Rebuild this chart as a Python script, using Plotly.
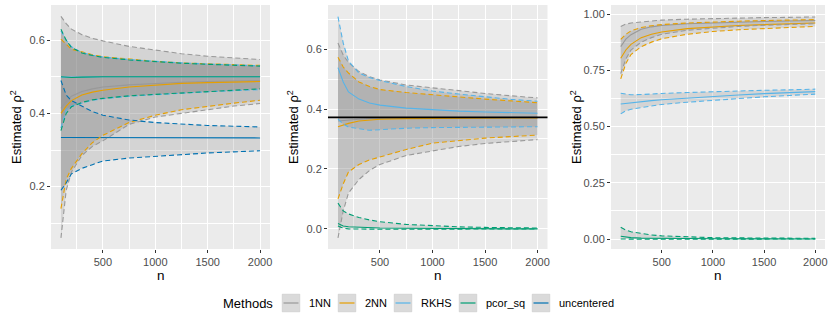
import plotly.graph_objects as go

# ---------------- data ----------------
n = [100, 150, 200, 300, 400, 500, 750, 1000, 1250, 1500, 1750, 2000]
methods = ["1NN", "2NN", "RKHS", "pcor_sq", "uncentered"]
colors = ["#999999", "#E69F00", "#56B4E9", "#009E73", "#0072B2"]

# panel 1
p1_1nn_mean = [0.414, 0.433, 0.447, 0.46, 0.467, 0.472, 0.478, 0.482, 0.485, 0.487, 0.489, 0.49]
p1_1nn_lo = [0.06, 0.19, 0.24, 0.285, 0.31, 0.325, 0.37, 0.39, 0.40, 0.41, 0.42, 0.427]
p1_1nn_hi = [0.665, 0.645, 0.63, 0.615, 0.605, 0.598, 0.583, 0.573, 0.563, 0.556, 0.551, 0.547]
p1_2nn_mean = [0.40, 0.42, 0.435, 0.45, 0.458, 0.463, 0.472, 0.478, 0.482, 0.484, 0.486, 0.487]
p1_2nn_lo = [0.14, 0.22, 0.25, 0.29, 0.32, 0.34, 0.375, 0.395, 0.41, 0.42, 0.428, 0.436]
p1_2nn_hi = [0.603, 0.59, 0.575, 0.568, 0.56, 0.555, 0.548, 0.542, 0.538, 0.535, 0.533, 0.531]
p1_rkhs_mean = [0.499, 0.498, 0.499, 0.499, 0.5, 0.5, 0.5, 0.5, 0.5, 0.5, 0.5, 0.5]
p1_rkhs_lo = [0.36, 0.41, 0.42, 0.429, 0.436, 0.44, 0.447, 0.451, 0.456, 0.459, 0.462, 0.465]
p1_rkhs_hi = [0.625, 0.60, 0.582, 0.566, 0.559, 0.554, 0.547, 0.542, 0.538, 0.535, 0.532, 0.53]
p1_pcor_mean = [0.5, 0.499, 0.498, 0.499, 0.5, 0.5, 0.5, 0.5, 0.5, 0.5, 0.5, 0.5]
p1_pcor_lo = [0.353, 0.40, 0.418, 0.43, 0.437, 0.441, 0.448, 0.452, 0.457, 0.46, 0.463, 0.467]
p1_pcor_hi = [0.63, 0.60, 0.58, 0.565, 0.558, 0.553, 0.546, 0.541, 0.537, 0.534, 0.531, 0.529]
p1_unc_mean = [0.334, 0.334, 0.333, 0.334, 0.333, 0.333, 0.333, 0.333, 0.333, 0.333, 0.333, 0.333]
p1_unc_lo = [0.19, 0.21, 0.235, 0.25, 0.26, 0.27, 0.278, 0.283, 0.288, 0.292, 0.295, 0.298]
p1_unc_hi = [0.49, 0.45, 0.435, 0.42, 0.405, 0.395, 0.382, 0.375, 0.37, 0.367, 0.365, 0.363]

# panel 2
p2_1nn_mean = [0.36, 0.362, 0.364, 0.366, 0.368, 0.369, 0.37, 0.371, 0.371, 0.372, 0.372, 0.372]
p2_1nn_lo = [-0.03, 0.06, 0.12, 0.165, 0.195, 0.215, 0.245, 0.26, 0.275, 0.285, 0.292, 0.298]
p2_1nn_hi = [0.62, 0.58, 0.555, 0.525, 0.508, 0.497, 0.48, 0.47, 0.46, 0.452, 0.444, 0.437]
p2_2nn_mean = [0.341, 0.347, 0.352, 0.36, 0.364, 0.366, 0.368, 0.369, 0.37, 0.37, 0.37, 0.37]
p2_2nn_lo = [0.10, 0.15, 0.19, 0.215, 0.23, 0.24, 0.265, 0.286, 0.295, 0.303, 0.308, 0.313]
p2_2nn_hi = [0.573, 0.54, 0.52, 0.49, 0.475, 0.465, 0.455, 0.447, 0.44, 0.433, 0.427, 0.421]
p2_rkhs_mean = [0.538, 0.49, 0.457, 0.433, 0.42, 0.413, 0.403, 0.397, 0.393, 0.39, 0.388, 0.386]
p2_rkhs_lo = [0.366, 0.35, 0.34, 0.335, 0.329, 0.331, 0.336, 0.338, 0.339, 0.34, 0.34, 0.341]
p2_rkhs_hi = [0.708, 0.62, 0.56, 0.52, 0.505, 0.495, 0.475, 0.46, 0.45, 0.44, 0.432, 0.426]
p2_pcor_mean = [0.018, 0.01, 0.007, 0.005, 0.004, 0.003, 0.002, 0.001, 0.001, 0.001, 0.0, 0.0]
p2_pcor_lo = [0.01, 0.002, 0.0, -0.001, -0.001, -0.001, -0.001, -0.001, 0.0, 0.0, 0.0, 0.0]
p2_pcor_hi = [0.086, 0.06, 0.05, 0.038, 0.03, 0.024, 0.015, 0.01, 0.007, 0.005, 0.004, 0.003]
p2_truth = 0.372

# panel 3
p3_1nn_mean = [0.855, 0.888, 0.908, 0.932, 0.943, 0.949, 0.957, 0.961, 0.965, 0.967, 0.969, 0.971]
p3_1nn_lo = [0.735, 0.80, 0.84, 0.875, 0.895, 0.91, 0.928, 0.938, 0.945, 0.95, 0.954, 0.957]
p3_1nn_hi = [0.945, 0.955, 0.96, 0.965, 0.97, 0.973, 0.977, 0.98, 0.982, 0.984, 0.985, 0.987]
p3_2nn_mean = [0.803, 0.84, 0.865, 0.895, 0.91, 0.92, 0.935, 0.943, 0.949, 0.953, 0.957, 0.96]
p3_2nn_lo = [0.712, 0.78, 0.82, 0.855, 0.875, 0.89, 0.91, 0.922, 0.93, 0.936, 0.941, 0.945]
p3_2nn_hi = [0.887, 0.91, 0.925, 0.94, 0.948, 0.953, 0.96, 0.965, 0.968, 0.971, 0.973, 0.975]
p3_rkhs_mean = [0.600, 0.603, 0.606, 0.61, 0.615, 0.619, 0.627, 0.634, 0.64, 0.646, 0.651, 0.655]
p3_rkhs_lo = [0.556, 0.57, 0.577, 0.585, 0.592, 0.598, 0.608, 0.617, 0.625, 0.632, 0.638, 0.644]
p3_rkhs_hi = [0.648, 0.644, 0.641, 0.642, 0.645, 0.647, 0.651, 0.655, 0.658, 0.661, 0.663, 0.666]
p3_pcor_mean = [0.012, 0.008, 0.006, 0.004, 0.003, 0.002, 0.002, 0.001, 0.001, 0.001, 0.0, 0.0]
p3_pcor_lo = [0.0, -0.001, -0.001, -0.001, -0.001, -0.001, 0.0, 0.0, 0.0, 0.0, 0.0, 0.0]
p3_pcor_hi = [0.052, 0.04, 0.032, 0.024, 0.018, 0.014, 0.009, 0.006, 0.005, 0.004, 0.003, 0.003]

# tick labels
p1_yticks = [0.2, 0.4, 0.6]
p2_yticks = [0.0, 0.2, 0.4, 0.6]
p3_yticks = [0.0, 0.25, 0.5, 0.75, 1.0]
x_ticks = [500, 1000, 1500, 2000]

panels = [
    {
        "1NN": (p1_1nn_mean, p1_1nn_lo, p1_1nn_hi),
        "2NN": (p1_2nn_mean, p1_2nn_lo, p1_2nn_hi),
        "RKHS": (p1_rkhs_mean, p1_rkhs_lo, p1_rkhs_hi),
        "pcor_sq": (p1_pcor_mean, p1_pcor_lo, p1_pcor_hi),
        "uncentered": (p1_unc_mean, p1_unc_lo, p1_unc_hi),
    },
    {
        "1NN": (p2_1nn_mean, p2_1nn_lo, p2_1nn_hi),
        "2NN": (p2_2nn_mean, p2_2nn_lo, p2_2nn_hi),
        "RKHS": (p2_rkhs_mean, p2_rkhs_lo, p2_rkhs_hi),
        "pcor_sq": (p2_pcor_mean, p2_pcor_lo, p2_pcor_hi),
    },
    {
        "1NN": (p3_1nn_mean, p3_1nn_lo, p3_1nn_hi),
        "2NN": (p3_2nn_mean, p3_2nn_lo, p3_2nn_hi),
        "RKHS": (p3_rkhs_mean, p3_rkhs_lo, p3_rkhs_hi),
        "pcor_sq": (p3_pcor_mean, p3_pcor_lo, p3_pcor_hi),
    },
]

# ---------------- figure ----------------
W, H = 830, 318
PT, PB = 5, 249           # plot area top / bottom in pixels
PH = PB - PT
FONT = "Liberation Sans, Arial, Helvetica, sans-serif"
RIBBON = "rgba(120,120,120,0.2)"
col_of = dict(zip(methods, colors))


def py(v):  # pixel row -> paper y
    return (PB - v) / PH


fig = go.Figure()
for pi, pdata in enumerate(panels):
    xa = "x" if pi == 0 else f"x{pi+1}"
    ya = "y" if pi == 0 else f"y{pi+1}"
    for m in methods:
        if m not in pdata:
            continue
        mean, lo, hi = pdata[m]
        fig.add_trace(go.Scatter(
            x=n + n[::-1], y=hi + lo[::-1], fill="toself", fillcolor=RIBBON,
            line=dict(width=0), mode="lines", hoverinfo="skip", showlegend=False,
            xaxis=xa, yaxis=ya))
    for m in methods:
        if m not in pdata:
            continue
        mean, lo, hi = pdata[m]
        fig.add_trace(go.Scatter(
            x=n, y=mean, mode="lines", name=m, legendgroup=m,
            line=dict(color=col_of[m], width=1.1),
            showlegend=False, xaxis=xa, yaxis=ya))
    for m in methods:
        if m not in pdata:
            continue
        mean, lo, hi = pdata[m]
        for b in (lo, hi):
            fig.add_trace(go.Scatter(
                x=n, y=b, mode="lines", legendgroup=m, showlegend=False,
                line=dict(color=col_of[m], width=1.1, dash="5px,3px"),
                xaxis=xa, yaxis=ya))

# truth line in panel 2
fig.add_shape(type="line", xref="x2 domain", yref="y2", x0=0, x1=1,
              y0=p2_truth, y1=p2_truth, line=dict(color="black", width=1.8), layer="above")

x_domains = [[51 / W, 270 / W], [328 / W, 547.5 / W], [611 / W, 825 / W]]
y_ranges = [[0.0297, 0.696], [-0.067, 0.747], [-0.0444, 1.04]]
y_ticks = [p1_yticks, p2_yticks, p3_yticks]
y_fmt = [".1f", ".1f", ".2f"]
y_minor = [0.1, 0.1, 0.125]

common = dict(
    showgrid=True, gridcolor="white", gridwidth=1.1, zeroline=False,
    ticks="outside", ticklen=3, tickwidth=1, tickcolor="#333333",
    tickfont=dict(family=FONT, size=11, color="#4D4D4D"),
    showline=False, automargin=False,
)
layout = dict(
    width=W, height=H,
    margin=dict(l=0, r=0, t=PT, b=H - PB),
    paper_bgcolor="white", plot_bgcolor="#EBEBEB",
    font=dict(family=FONT, size=11, color="black"),
    showlegend=False,
)
annotations = []
shapes = []
for i in range(3):
    sx = "" if i == 0 else str(i + 1)
    layout["xaxis" + sx] = dict(
        common, domain=x_domains[i], range=[5, 2095], anchor="y" + sx,
        tickvals=x_ticks, ticktext=[str(v) for v in x_ticks],
        minor=dict(dtick=250, tick0=0, showgrid=True, gridcolor="white", gridwidth=0.5, ticklen=0),
    )
    layout["yaxis" + sx] = dict(
        common, domain=[0, 1], range=y_ranges[i], anchor="x" + sx,
        tickvals=y_ticks[i], tickformat=y_fmt[i],
        minor=dict(dtick=y_minor[i], tick0=0, showgrid=True, gridcolor="white", gridwidth=0.5, ticklen=0),
    )
    annotations.append(dict(
        text="n", xref="paper", yref="paper",
        x=(x_domains[i][0] + x_domains[i][1]) / 2, y=py(275),
        showarrow=False, xanchor="center", yanchor="middle",
        font=dict(family=FONT, size=13.5, color="black")))
    annotations.append(dict(
        text="Estimated ρ<sup>2</sup>", xref="paper", yref="paper",
        x=x_domains[i][0] - 35 / W, y=0.5, textangle=-90,
        showarrow=False, xanchor="center", yanchor="middle",
        font=dict(family=FONT, size=13, color="black")))

# legend (ggplot-style keys: grey box with coloured line)
LEG_Y = 303
KEY = 17.6
key_centers = [291, 347, 403, 468, 541]
annotations.append(dict(
    text="Methods", xref="paper", yref="paper", x=221 / W, y=py(LEG_Y),
    showarrow=False, xanchor="left", yanchor="middle",
    font=dict(family=FONT, size=13, color="black")))
for m, kc in zip(methods, key_centers):
    shapes.append(dict(
        type="rect", xref="paper", yref="paper",
        x0=(kc - KEY / 2) / W, x1=(kc + KEY / 2) / W,
        y0=py(LEG_Y + KEY / 2), y1=py(LEG_Y - KEY / 2),
        fillcolor="#DADADA", line=dict(width=0.6, color="rgba(200,200,200,0.9)"), layer="above"))
    shapes.append(dict(
        type="line", xref="paper", yref="paper",
        x0=(kc - 7.5) / W, x1=(kc + 7.5) / W, y0=py(LEG_Y), y1=py(LEG_Y),
        line=dict(color=col_of[m], width=1.2), layer="above"))
    annotations.append(dict(
        text=m, xref="paper", yref="paper", x=(kc + KEY / 2 + 7) / W, y=py(LEG_Y),
        showarrow=False, xanchor="left", yanchor="middle",
        font=dict(family=FONT, size=11, color="black")))

layout["annotations"] = annotations
fig.update_layout(**layout)
for s in shapes:
    fig.add_shape(**s)

fig.write_html("out.html", config={"displayModeBar": False},
               post_script="document.body.style.margin='0px';")
